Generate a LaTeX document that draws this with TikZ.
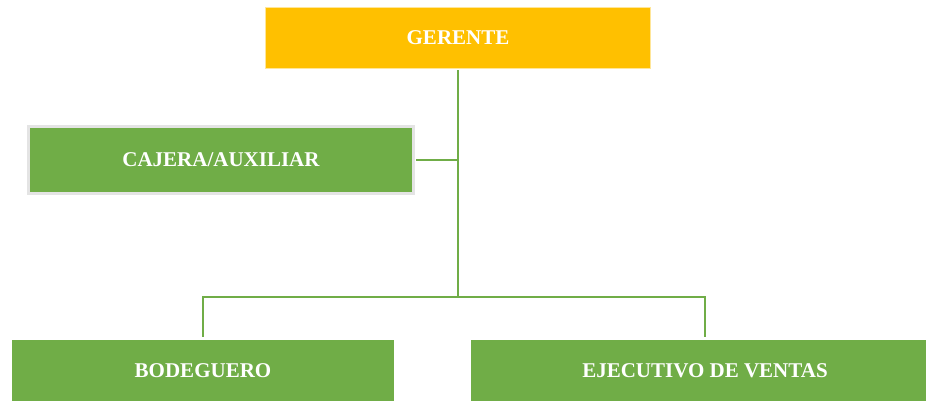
\documentclass[tikz,border=0pt]{standalone}
\usepackage{fontspec}
\setmainfont{Liberation Serif}
\definecolor{gold}{HTML}{FFC000}
\definecolor{leaf}{HTML}{70AD47}
\definecolor{edge}{HTML}{E4E4E4}
\begin{document}
\begin{tikzpicture}[x=1pt,y=-1pt,
  box/.style={draw=none,inner sep=0pt,font=\fontsize{21}{25}\selectfont\bfseries,text=white},
  link/.style={draw=leaf,line width=2.3pt}]
\useasboundingbox (0,0) rectangle (926,401);
\fill[fill=gold!40] (265,7) rectangle (651,69);
\node[box,fill=gold,minimum width=384pt,minimum height=60pt] (g) at (458,38) {GERENTE};
\fill[edge] (27,125) rectangle (415,195);
\node[box,fill=leaf,minimum width=382pt,minimum height=64pt] (c) at (221,160) {CAJERA/AUXILIAR};
\node[box,fill=leaf,minimum width=382pt,minimum height=61pt] (b) at (203,370.5) {BODEGUERO};
\begin{scope}
\clip (0,0) rectangle (926,401);
\node[box,fill=leaf,minimum width=468pt,minimum height=61pt] (e) at (705,370.5) {EJECUTIVO DE VENTAS};
\end{scope}
\coordinate (j) at (458,297);
\coordinate (k) at (458,160);
\draw[link] ([yshift=-2pt]g.south) -- (j);
\draw[link] ([xshift=4pt]c.east) -- (k);
\draw[link] (j) -| ([yshift=3pt]b.north);
\draw[link] (j) -| ([yshift=3pt]e.north);
\end{tikzpicture}
\end{document}
